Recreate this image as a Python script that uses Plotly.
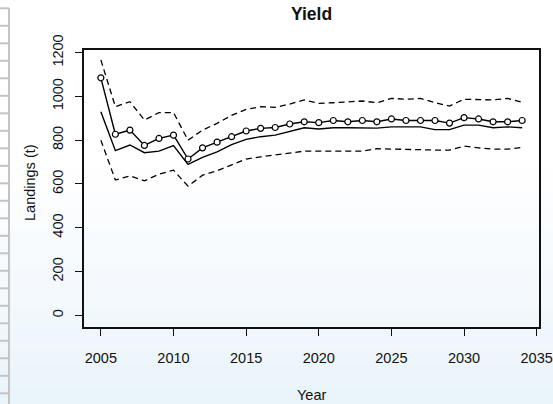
import plotly.graph_objects as go

years = list(range(2005, 2035))
observed = [1085, 827, 846, 776, 808, 823, 714, 765, 791, 816,
            842, 854, 858, 874, 884, 880, 890, 884, 890, 884,
            897, 890, 890, 890, 878, 903, 897, 884, 884, 890]
median = [930, 752, 778, 743, 750, 775, 689, 721, 747, 780,
          804, 816, 823, 839, 857, 851, 857, 857, 857, 855,
          861, 861, 861, 848, 848, 869, 869, 857, 861, 857]
upper = [1167, 953, 976, 892, 926, 926, 800, 846, 877, 913,
         941, 953, 950, 965, 984, 968, 971, 976, 979, 971,
         991, 987, 991, 971, 956, 987, 984, 984, 991, 973]
lower = [800, 618, 637, 614, 645, 663, 590, 640, 660, 686,
         714, 724, 732, 743, 750, 750, 750, 750, 750, 761,
         759, 759, 755, 755, 755, 773, 765, 759, 759, 767]
x_ticks = [2005, 2010, 2015, 2020, 2025, 2030, 2035]
y_ticks = [0, 200, 400, 600, 800, 1000, 1200]

W, H = 553, 404
L, R, T, B = 84, 14, 50, 77
PW, PH = W - L - R, H - T - B

def px_x(px):
    return (px - L) / PW

def px_y(py):
    return (H - B - py) / PH

FONT = "Liberation Sans, Arial, Helvetica, sans-serif"

fig = go.Figure()
dash = "6px,4px"
fig.add_trace(go.Scatter(x=years, y=upper, mode="lines",
                         line=dict(color="black", width=1.3, dash=dash), showlegend=False))
fig.add_trace(go.Scatter(x=years, y=lower, mode="lines",
                         line=dict(color="black", width=1.3, dash=dash), showlegend=False))
fig.add_trace(go.Scatter(x=years, y=median, mode="lines",
                         line=dict(color="black", width=1.4), showlegend=False))
fig.add_trace(go.Scatter(x=years, y=observed, mode="lines+markers",
                         line=dict(color="black", width=1.4),
                         marker=dict(symbol="circle", size=6, color="white",
                                     line=dict(color="black", width=1.2)),
                         showlegend=False))

shapes = []
# soft background gradient (page behind the chart)
top_c = (255, 255, 255)
bot_c = (234, 244, 251)
nb = 12
y0px = 170
for i in range(nb):
    a = y0px + (H - y0px) * i / nb
    b = y0px + (H - y0px) * (i + 1) / nb
    t = (i + 0.5) / nb
    c = tuple(int(top_c[k] + (bot_c[k] - top_c[k]) * t) for k in range(3))
    shapes.append(dict(type="rect", xref="paper", yref="paper",
                       x0=px_x(0), x1=px_x(W), y0=px_y(b), y1=px_y(a),
                       fillcolor="rgb(%d,%d,%d)" % c, line=dict(width=0), layer="below"))
# left-edge table lines
shapes.append(dict(type="line", xref="paper", yref="paper",
                   x0=px_x(9), x1=px_x(9), y0=px_y(8), y1=px_y(H),
                   line=dict(color="#c4c4c4", width=2), layer="below"))
yy = 8.3
while yy < H:
    shapes.append(dict(type="line", xref="paper", yref="paper",
                       x0=px_x(0), x1=px_x(9), y0=px_y(yy), y1=px_y(yy),
                       line=dict(color="#c4c4c4", width=2), layer="below"))
    yy += 17.5

annotations = [
    dict(text="Landings (t)", xref="paper", yref="paper", x=px_x(30), y=px_y(183),
         xanchor="center", yanchor="middle", textangle=-90, showarrow=False,
         font=dict(family=FONT, size=14.5, color="#111")),
    dict(text="Year", xref="paper", yref="paper", x=px_x(311), y=px_y(395),
         xanchor="center", yanchor="middle", showarrow=False,
         font=dict(family=FONT, size=14.5, color="#111")),
]

fig.update_layout(
    width=W, height=H,
    margin=dict(l=L, r=R, t=T, b=B, autoexpand=False),
    paper_bgcolor="white", plot_bgcolor="white",
    title=dict(text="<b>Yield</b>", x=px_x(311.5), xref="paper", xanchor="center",
               y=1 - 14 / H, yref="container", yanchor="middle",
               font=dict(family=FONT, size=17.5, color="#111")),
    shapes=shapes, annotations=annotations,
    xaxis=dict(range=[2003.84, 2035.16], tickvals=x_ticks, ticktext=[str(v) for v in x_ticks],
               showgrid=False, zeroline=False, showline=True, mirror=True,
               linecolor="#111", linewidth=1.5, ticks="outside", ticklen=7, tickwidth=1.2,
               tickcolor="#111", tickfont=dict(family=FONT, size=14.5, color="#111"),
               ticklabelstandoff=10),
    yaxis=dict(range=[-53.5, 1212], tickvals=y_ticks, ticktext=[str(v) for v in y_ticks],
               showgrid=False, zeroline=False, showline=True, mirror=True,
               linecolor="#111", linewidth=1.5, ticks="outside", ticklen=7, tickwidth=1.2,
               tickcolor="#111", tickangle=-90,
               tickfont=dict(family=FONT, size=14.5, color="#111"),
               ticklabelstandoff=6),
)

fig.write_html("out.html", config={"displayModeBar": False},
               post_script="document.body.style.margin='0';document.body.style.overflow='hidden';")
